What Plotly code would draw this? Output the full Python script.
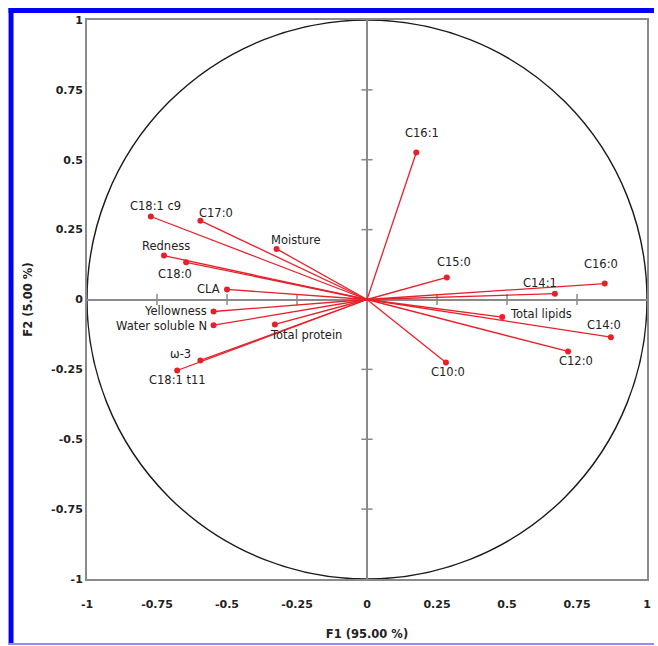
import plotly.graph_objects as go

# ---- data ----
labels = ["C16:1", "C18:1 c9", "C17:0", "Moisture", "Redness", "C18:0", "CLA",
          "Yellowness", "Water soluble N", "Total protein", "ω-3", "C18:1 t11",
          "C15:0", "C16:0", "C14:1", "Total lipids", "C14:0", "C12:0", "C10:0"]
f1 = [0.176, -0.772, -0.595, -0.323, -0.725, -0.646, -0.500,
      -0.548, -0.548, -0.329, -0.595, -0.678,
      0.285, 0.849, 0.671, 0.483, 0.871, 0.718, 0.282]
f2 = [0.526, 0.297, 0.282, 0.181, 0.157, 0.133, 0.036,
      -0.043, -0.092, -0.089, -0.218, -0.254,
      0.079, 0.057, 0.021, -0.063, -0.135, -0.186, -0.225]
tick_vals = [-1, -0.75, -0.5, -0.25, 0, 0.25, 0.5, 0.75, 1]
tick_text = ["-1", "-0.75", "-0.5", "-0.25", "0", "0.25", "0.5", "0.75", "1"]
x_title = "F1 (95.00 %)"
y_title = "F2 (5.00 %)"

# ---- label placement (style) ----
label_pos = {
    "C16:1": ("center", 6, 19), "C18:1 c9": ("center", 5, 10), "C17:0": ("center", 16, 8),
    "Moisture": ("center", 19, 9), "Redness": ("center", 2, 10), "C18:0": ("center", -11, -12),
    "CLA": ("right", -5, 0), "Yellowness": ("right", -5, 1), "Water soluble N": ("right", -5, -1),
    "Total protein": ("left", -7, -11), "ω-3": ("right", -7, 6), "C18:1 t11": ("center", 0, -10),
    "C15:0": ("center", 7, 15), "C16:0": ("center", -4, 20), "C14:1": ("center", -15, 11),
    "Total lipids": ("left", 6, 3), "C14:0": ("center", -7, 12), "C12:0": ("center", 8, -10),
    "C10:0": ("center", 2, -10),
}

RED = "rgb(232,32,42)"
GRAY = "#8a8a8a"
TXT = "#222222"
FONT = "DejaVu Sans"

fig = go.Figure()

# axis tick marks on the zero lines
inner = [v for v in tick_vals if v not in (-1, 0, 1)]
fig.add_trace(go.Scatter(x=inner, y=[0] * len(inner), mode="markers", hoverinfo="skip",
                         marker=dict(symbol="line-ns", size=8, line=dict(color=GRAY, width=1.5))))
fig.add_trace(go.Scatter(x=[0] * len(inner), y=inner, mode="markers", hoverinfo="skip",
                         marker=dict(symbol="line-ew", size=8, line=dict(color=GRAY, width=1.5))))

# vectors
lx, ly = [], []
for a, b in zip(f1, f2):
    lx += [0, a, None]
    ly += [0, b, None]
fig.add_trace(go.Scatter(x=lx, y=ly, mode="lines", line=dict(color=RED, width=1.3),
                         hoverinfo="skip"))
fig.add_trace(go.Scatter(x=f1, y=f2, mode="markers", text=labels,
                         marker=dict(color=RED, size=6)))

for name, a, b in zip(labels, f1, f2):
    anchor, dx, dy = label_pos[name]
    fig.add_annotation(x=a, y=b, text=name, showarrow=False, xanchor=anchor, yanchor="middle",
                       xshift=dx, yshift=dy, font=dict(family=FONT, size=11.5, color=TXT))

# correlation circle
fig.add_shape(type="circle", xref="x", yref="y", x0=-1, y0=-1, x1=1, y1=1,
              line=dict(color="#1a1a1a", width=1.4), layer="below")

# blue page border (paper coords)
def px_x(p):
    return (p - 87) / 564.0

def px_y(p):
    return (580 - p) / 560.0

BLUE = "#0000ff"
fig.add_shape(type="rect", xref="paper", yref="paper", x0=px_x(8), x1=px_x(13),
              y0=px_y(646), y1=px_y(8), fillcolor=BLUE, line=dict(width=0))
fig.add_shape(type="rect", xref="paper", yref="paper", x0=px_x(8), x1=px_x(658),
              y0=px_y(13), y1=px_y(8), fillcolor=BLUE, line=dict(width=0))
fig.add_shape(type="rect", xref="paper", yref="paper", x0=px_x(8), x1=px_x(658),
              y0=px_y(646), y1=px_y(644), fillcolor="#8c8cff", line=dict(width=0))

axis_common = dict(range=[-1, 1], tickvals=tick_vals, ticktext=tick_text, showgrid=False,
                   zeroline=True, zerolinecolor=GRAY, zerolinewidth=1.5,
                   showline=True, mirror=True, linecolor=GRAY, linewidth=2, ticks="",
                   tickfont=dict(family=FONT, size=11, color=TXT, weight="bold"))

fig.update_layout(
    width=658, height=646,
    margin=dict(l=87, r=7, t=20, b=66),
    paper_bgcolor="white", plot_bgcolor="white",
    showlegend=False,
    xaxis=dict(**axis_common, ticklabelstandoff=14,
               title=dict(text=x_title, standoff=20,
                          font=dict(family=FONT, size=11.5, color=TXT, weight="bold"))),
    yaxis=dict(**axis_common, title=dict(text=y_title, standoff=16,
               font=dict(family=FONT, size=11.5, color=TXT, weight="bold"))),
)

fig.write_html("out.html", config={"displayModeBar": False},
               post_script="document.body.style.margin='0';document.body.style.overflow='hidden';")
